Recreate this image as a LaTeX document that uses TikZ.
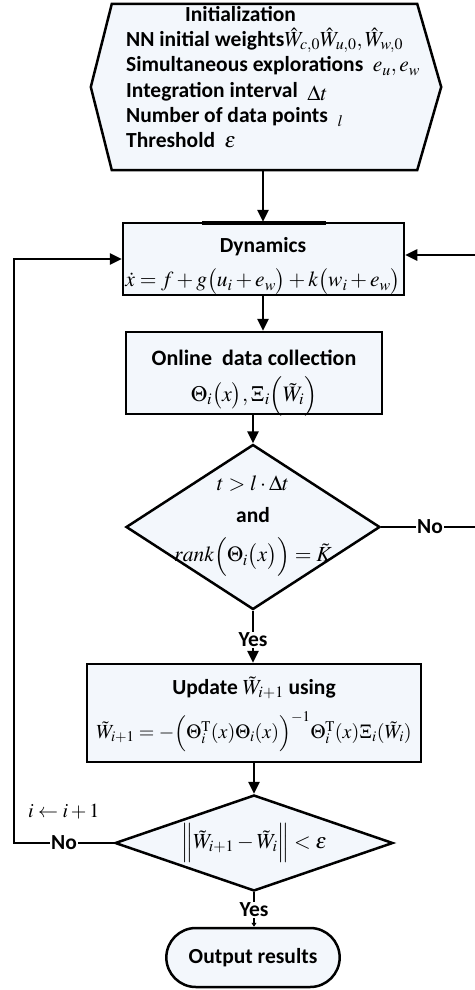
\documentclass[tikz,border=0pt]{standalone}
\usepackage{mathptmx}
\usepackage[no-math]{fontspec}
\setmainfont{Carlito}
\usetikzlibrary{arrows.meta,shapes.geometric,shapes.misc,calc}
\definecolor{boxfill}{RGB}{243,247,252}
\tikzset{
  lw/.style={line width=2.5pt},
  txt/.style={font=\fontsize{21.5}{26}\selectfont\bfseries},
  box/.style={draw, lw, fill=boxfill, inner sep=0pt},
  arr/.style={lw, -{Triangle[length=12pt,width=11pt]}},
  lab/.style={txt, fill=white, inner sep=1pt},
}
\begin{document}
\begin{tikzpicture}[x=1pt,y=-1pt]
\useasboundingbox (0,0) rectangle (474,990);
\fill[white] (0,0) rectangle (474,990);
% initialization hexagon
\node[minimum width=305pt, minimum height=166pt, inner sep=0pt] (init) at (264.5,87) {};
\draw[box] (init.north west) -- (init.north east) -- ($(init.east)+(24,0)$) -- (init.south east)
   -- (init.south west) -- ($(init.west)+(-21,0)$) -- cycle;
\node[font=\fontsize{21.5}{25.3}\selectfont\bfseries, align=left, anchor=north west, inner sep=0pt] (initxt) at (126,6)
 {\hspace*{59pt}Initialization\\
  NN initial weights$\hat W_{c,0}\hat W_{u,0},\hat W_{w,0}$\\
  Simultaneous explorations $\;e_u,e_w$\\
  Integration interval $\;\raisebox{-3pt}{$\Delta t$}$\\
  Number of data points $\;\raisebox{-4pt}{$\scriptstyle l$}$\\
  Threshold $\;\varepsilon$};
% dynamics
\node[box, minimum width=281pt, minimum height=72pt] (dyn) at (263.5,259) {};
\node[txt, align=center] (dyntxt) at (263,266)
 {Dynamics\\[8pt] $\dot x = f + g\bigl(u_i + e_w\bigr) + k\bigl(w_i + e_w\bigr)$};
\draw[line width=4pt] (202,223) -- (326,223);
% online data collection
\node[box, minimum width=256pt, minimum height=82pt] (odc) at (254,373) {};
\node[font=\fontsize{22}{26}\selectfont\bfseries, align=center] (odctxt) at (254,383)
 {Online\ \ data collection\\[10pt] $\Theta_i\bigl(x\bigr),\Xi_i\Bigl(\tilde W_i\Bigr)$};
% decision 1
\node[diamond, draw, lw, fill=boxfill, minimum width=254pt, minimum height=165pt, inner sep=0pt] (d1) at (253,527) {};
\node[txt, align=center] (d1txt) at (253,526)
 {$t > l\cdot\Delta t$\\[6pt] and\\[13pt] $rank\Bigl(\Theta_i\bigl(x\bigr)\Bigr) = \tilde K$};
% update
\node[box, minimum width=334pt, minimum height=98pt] (upd) at (254,713) {};
\node[txt, align=center] (updtxt) at (254,714)
 {Update $\tilde W_{i+1}$ using\\[11pt] {\fontsize{20}{24}\selectfont$\tilde W_{i+1} = -\Bigl(\Theta_i^{\mathrm T}(x)\Theta_i(x)\Bigr)^{-1}\Theta_i^{\mathrm T}(x)\Xi_i(\tilde W_i)$}};
% decision 2
\node[diamond, draw, lw, fill=boxfill, minimum width=278pt, minimum height=96pt, inner sep=0pt] (d2) at (254,843) {};
\node[txt] (d2txt) at (254,843) {$\Bigl\|\tilde W_{i+1} - \tilde W_i\Bigr\| < \varepsilon$};
% output
\node[rounded rectangle, draw, lw, fill=boxfill, minimum width=180pt, minimum height=59pt, txt] (out) at (253,957.5) {Output results};
% connectors
\coordinate (ax) at (263,0);
\draw[arr] (init.south -| ax) -- (dyn.north -| ax);
\draw[arr] (dyn.south -| ax) -- (odc.north -| ax);
\draw[arr] (odc.south -| d1.north) -- (d1.north);
\node[lab] (yes1) at (253,640) {Yes};
\draw[lw] (d1.south) -- (yes1.north);
\draw[arr] (yes1.south) -- (yes1.south |- upd.north);
\draw[arr] (upd.south -| d2.north) -- (d2.north);
\node[lab] (yes2) at (254,910) {Yes};
\draw[lw] (d2.south) -- (yes2.north);
\draw[lw, -{Triangle[length=4pt,width=5pt]}] (yes2.south) -- (yes2.south |- out.north);
\coordinate (lx) at (14,0);
\coordinate (rx) at (478,0);
\draw[arr] (d2.west) -- (d2.west -| lx) |- (dyn.west);
\draw[arr] (d1.east) -- (d1.east -| rx) |- ([yshift=4pt]dyn.east);
\node[lab] (no2) at (64,843) {No};
\node[lab] (no1) at (430,527) {No};
\node[font=\fontsize{20}{24}\selectfont, anchor=west, inner sep=0pt] (inc) at (28,812) {$i\leftarrow i+1$};
\end{tikzpicture}
\end{document}
